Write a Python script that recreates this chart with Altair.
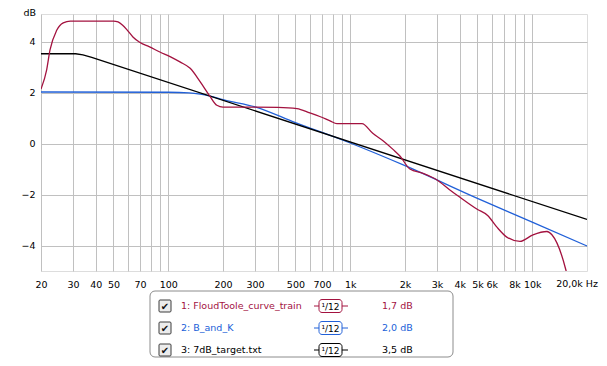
import altair as alt
import pandas as pd

# ---- data ----
freq_ft = [20, 21.5, 22.4, 24.4, 26.5, 29, 35, 45, 50, 53, 56, 60, 64, 70, 79, 90, 103, 116, 132, 150,
           169, 185, 200, 250, 300, 400, 510, 600, 680, 775, 845, 1000, 1160, 1330, 1520, 1718, 1875,
           2128, 2513, 3000, 3500, 4010, 4960, 5710, 6400, 7250, 8560, 10100, 12050, 12830, 15300, 16500]
db_ft = [2.14, 2.9, 3.66, 4.44, 4.73, 4.80, 4.80, 4.80, 4.80, 4.77, 4.65, 4.42, 4.18, 3.96, 3.79, 3.59,
         3.4, 3.2, 2.95, 2.42, 1.87, 1.5, 1.43, 1.43, 1.43, 1.42, 1.37, 1.2, 1.06, 0.89, 0.78, 0.78,
         0.78, 0.4, 0.1, -0.23, -0.49, -1.0, -1.17, -1.43, -1.8, -2.11, -2.57, -2.83, -3.28, -3.67,
         -3.84, -3.58, -3.45, -3.58, -4.95, -6.0]

freq_bk = [20, 100, 130, 150, 170, 200, 300, 500, 1000, 2000, 5000, 10000, 20000]
db_bk = [2.02, 2.01, 1.99, 1.94, 1.86, 1.72, 1.44, 0.82, 0.02, -0.87, -2.15, -3.08, -4.02]

freq_tg = [20, 31, 34, 38, 20000]
db_tg = [3.52, 3.52, 3.48, 3.38, -2.98]

x_grid = [20, 30, 40, 50, 60, 70, 80, 90, 100, 200, 300, 400, 500, 600, 700, 800, 900,
          1000, 2000, 3000, 4000, 5000, 6000, 7000, 8000, 9000, 10000]
x_labelled = [20, 30, 40, 50, 70, 100, 200, 300, 500, 700, 1000, 2000, 3000, 4000, 5000,
              6000, 8000, 10000]
x_last_label = ["20,0k Hz"]
y_ticks = [-4, -2, 0, 2, 4]

series_names = ["1: FloudToole_curve_train", "2: B_and_K", "3: 7dB_target.txt"]
series_colors = ["#a3123f", "#2160d8", "#000000"]
series_smooth = ["\u00b9/12", "\u00b9/12", "\u00b9/12"]
series_values = ["1,7 dB", "2,0 dB", "3,5 dB"]

FONT = "DejaVu Sans"
FS = 9.5
GRID = "#c0c0c0"

label_expr = ("indexof([" + ",".join(str(v) for v in x_labelled) + "], datum.value) >= 0 ? "
              "(datum.value >= 1000 ? (datum.value/1000) + 'k' : '' + datum.value) : ''")

x_enc = alt.X("f:Q",
              scale=alt.Scale(type="log", domain=[20, 20000], nice=False),
              axis=alt.Axis(values=x_grid, labelExpr=label_expr, grid=True, gridColor=GRID,
                            gridWidth=1, ticks=False, domain=False, title=None,
                            labelFont=FONT, labelFontSize=FS, labelColor="#000000",
                            labelPadding=8, labelOverlap=False, labelFlush=False))
y_enc = alt.Y("db:Q",
              scale=alt.Scale(domain=[-5, 5.08], nice=False, zero=False),
              axis=alt.Axis(values=y_ticks, grid=True, gridColor=GRID, gridWidth=1,
                            ticks=False, domain=False, title=None, labelFont=FONT,
                            labelFontSize=FS, labelColor="#000000", labelPadding=6))


def line(freqs, dbs, color, interp="monotone"):
    df = pd.DataFrame({"f": freqs, "db": dbs})
    return alt.Chart(df).mark_line(color=color, strokeWidth=1.3, interpolate=interp,
                                   clip=True).encode(x=x_enc, y=y_enc)


layers = [
    line(freq_bk, db_bk, series_colors[1]),
    line(freq_tg, db_tg, series_colors[2], "linear"),
    line(freq_ft, db_ft, series_colors[0]),
]

one = pd.DataFrame({"k": [0]})

# axis unit / last frequency label
layers.append(alt.Chart(one).mark_text(text="dB", align="right", baseline="top", font=FONT,
                                       fontSize=FS, color="#000000")
              .encode(x=alt.value(-5), y=alt.value(-6)))
layers.append(alt.Chart(pd.DataFrame({"f": [20000], "db": [0]}))
              .mark_text(text=x_last_label[0], align="right", baseline="top", dx=11,
                         font=FONT, fontSize=FS, color="#000000")
              .encode(x=x_enc, y=alt.value(265)))

# legend box
layers.append(alt.Chart(one).mark_rect(fill="white", stroke="#8c8c8c", strokeWidth=1,
                                       cornerRadius=5)
              .encode(x=alt.value(109), x2=alt.value(412), y=alt.value(277), y2=alt.value(343)))

for i, (name, col, sm, val) in enumerate(zip(series_names, series_colors, series_smooth,
                                            series_values)):
    cy = 292 + 22 * i
    layers.append(alt.Chart(one).mark_rect(fill="#ececec", stroke="#3c3c3c", strokeWidth=1,
                                           cornerRadius=1)
                  .encode(x=alt.value(118), x2=alt.value(130), y=alt.value(cy - 6),
                          y2=alt.value(cy + 6)))
    layers.append(alt.Chart(one).mark_text(text="\u2714", align="center", baseline="middle",
                                           font=FONT, fontSize=10, color="#111111")
                  .encode(x=alt.value(124), y=alt.value(cy + 0.5)))
    layers.append(alt.Chart(one).mark_text(text=name, align="left", baseline="middle",
                                           font=FONT, fontSize=FS, color=col)
                  .encode(x=alt.value(140), y=alt.value(cy)))
    layers.append(alt.Chart(one).mark_rule(color=col, strokeWidth=1)
                  .encode(x=alt.value(273), x2=alt.value(307), y=alt.value(cy)))
    layers.append(alt.Chart(one).mark_rect(fill="white", stroke=col, strokeWidth=1,
                                           cornerRadius=3)
                  .encode(x=alt.value(278), x2=alt.value(301), y=alt.value(cy - 6.5),
                          y2=alt.value(cy + 6.5)))
    layers.append(alt.Chart(one).mark_text(text=sm, align="center", baseline="middle",
                                           font=FONT, fontSize=9, color="#000000")
                  .encode(x=alt.value(289.5), y=alt.value(cy + 0.5)))
    layers.append(alt.Chart(one).mark_text(text=val, align="left", baseline="middle",
                                           font=FONT, fontSize=FS, color=col)
                  .encode(x=alt.value(341), y=alt.value(cy)))

chart = (alt.layer(*layers)
         .properties(width=546, height=257,
                     autosize=alt.AutoSizeParams(type="none"),
                     padding={"left": 33, "top": 6, "right": 12, "bottom": 87})
         .configure_view(stroke="#aaaaaa", strokeWidth=3)
         .configure(background="white"))

chart.save("out.html", embed_options={"renderer": "svg", "actions": False})
